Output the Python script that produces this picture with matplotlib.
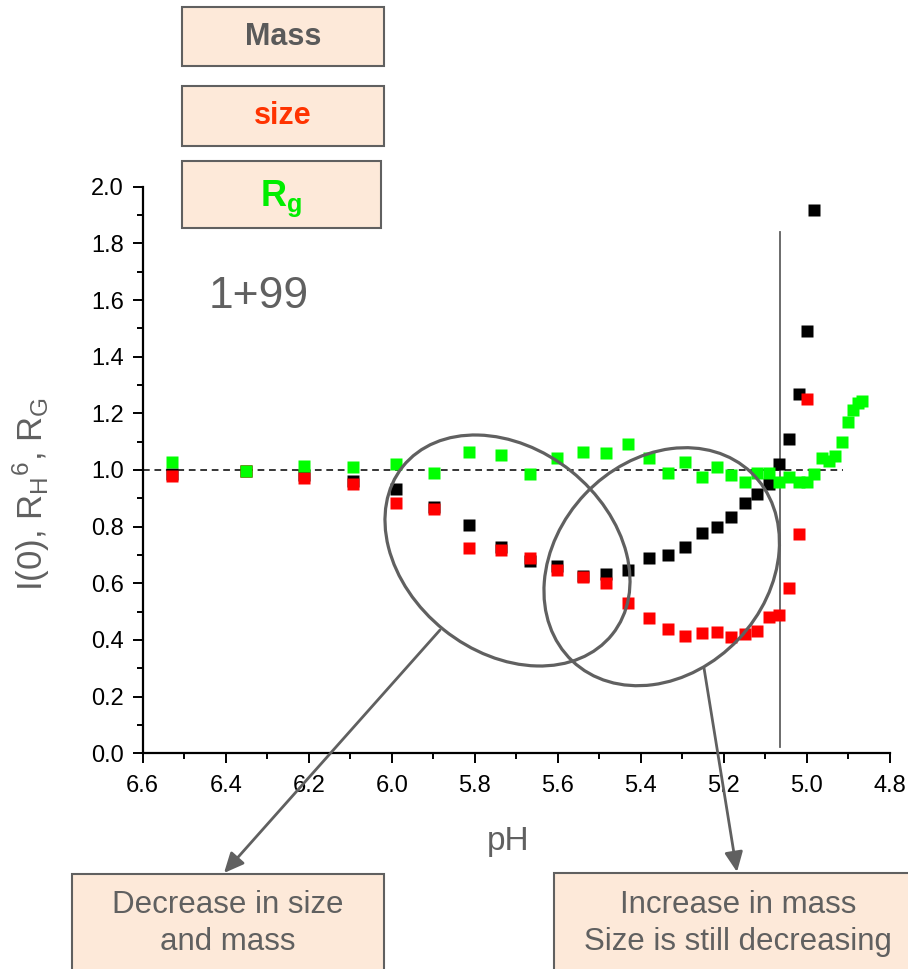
import numpy as np
import matplotlib
matplotlib.use("Agg")
import matplotlib.pyplot as plt
from matplotlib.patches import Rectangle, Ellipse, FancyArrowPatch
from matplotlib.ticker import MultipleLocator

plt.rcParams['font.family'] = ['Liberation Sans', 'DejaVu Sans']
plt.rcParams['mathtext.fontset'] = 'custom'
plt.rcParams['mathtext.rm'] = 'Liberation Sans'
plt.rcParams['mathtext.it'] = 'Liberation Sans'
plt.rcParams['mathtext.bf'] = 'Liberation Sans:bold'

nan = np.nan

# pH titration series, normalised values
ph = [6.529, 6.351, 6.211, 6.093, 5.990, 5.898, 5.814, 5.737, 5.667, 5.601,
      5.540, 5.483, 5.430, 5.381, 5.335, 5.293, 5.253, 5.217, 5.182, 5.150,
      5.120, 5.092, 5.068, 5.043, 5.020, 5.000, 4.982, 4.964, 4.946, 4.932,
      4.916, 4.902, 4.889, 4.877, 4.867]
mass_i0 = [0.987, 0.995, 0.982, 0.960, 0.933, 0.870, 0.807, 0.728, 0.680, 0.660,
           0.625, 0.633, 0.648, 0.689, 0.701, 0.729, 0.778, 0.800, 0.834, 0.885,
           0.917, 0.952, 1.021, 1.111, 1.268, 1.489, 1.917, nan, nan, nan,
           nan, nan, nan, nan, nan]
size_rh6 = [0.980, 0.995, 0.970, 0.952, 0.883, 0.862, 0.723, 0.718, 0.689, 0.648,
            0.623, 0.601, 0.530, 0.478, 0.439, 0.415, 0.425, 0.428, 0.410, 0.420,
            0.430, 0.480, 0.489, 0.583, 0.774, 1.252, nan, nan, nan, nan,
            nan, nan, nan, nan, nan]
rg = [1.027, 0.995, 1.015, 1.011, 1.021, 0.991, 1.064, 1.052, 0.985, 1.041,
      1.064, 1.060, 1.091, 1.042, 0.988, 1.027, 0.976, 1.011, 0.983, 0.958,
      0.991, 0.991, 0.958, 0.976, 0.956, 0.956, 0.986, 1.044, 1.032, 1.048,
      1.099, 1.170, 1.211, 1.238, 1.244]

xticks = [6.6, 6.4, 6.2, 6.0, 5.8, 5.6, 5.4, 5.2, 5.0, 4.8]
yticks = [0.0, 0.2, 0.4, 0.6, 0.8, 1.0, 1.2, 1.4, 1.6, 1.8, 2.0]
ref_level = 1.0
ref_end_ph = 4.913
transition_ph = 5.064

W, H = 908, 969
GRAY = '#606060'
PEACH = '#FDE9D9'

AX_L, AX_R, AX_T, AX_B = 142.7, 890.0, 186.7, 753.3
fig = plt.figure(figsize=(W / 100, H / 100), dpi=100)
ax = fig.add_axes([AX_L / W, 1 - AX_B / H, (AX_R - AX_L) / W, (AX_B - AX_T) / H])

ax.set_xlim(6.6, 4.8)
ax.set_ylim(0.0, 2.0)

ax.plot([6.6, ref_end_ph], [ref_level, ref_level], color='black',
        lw=1.1, dashes=(4.4, 3.1), zorder=1, clip_on=False)
ax.plot([transition_ph, transition_ph], [0.021, 1.84], color=GRAY, lw=1.3, zorder=1)

ms = 8
ax.plot(ph, mass_i0, 's', color='black', ms=ms, mec='none', zorder=3)
ax.plot(ph, size_rh6, 's', color='#FF0000', ms=ms, mec='none', zorder=4)
ax.plot(ph, rg, 's', color='#00FF00', ms=ms, mec='none', zorder=5)

for s in ['top', 'right']:
    ax.spines[s].set_visible(False)
for s in ['left', 'bottom']:
    ax.spines[s].set_linewidth(1.6)

ax.set_xticks(xticks)
ax.set_xticklabels([f'{v:.1f}' for v in xticks])
ax.set_yticks(yticks)
ax.set_yticklabels([f'{v:.1f}' for v in yticks])
ax.xaxis.set_minor_locator(MultipleLocator(0.1))
ax.yaxis.set_minor_locator(MultipleLocator(0.1))
ax.tick_params(which='major', length=7.5, width=1.4, labelsize=17, direction='out')
ax.tick_params(which='minor', length=4, width=1.4, direction='out')
ax.tick_params(axis='x', pad=8)
ax.tick_params(axis='y', pad=6)

ax.set_xlabel('pH', fontsize=24, color=GRAY)
ax.xaxis.set_label_coords((508 - AX_L) / (AX_R - AX_L), (AX_B - 826) / (AX_B - AX_T))
ax.set_ylabel(r'I(0), R$_\mathregular{H}{}^\mathregular{6}$, R$_\mathregular{G}$',
              fontsize=25, color=GRAY)
ax.yaxis.set_label_coords((52 - AX_L) / (AX_R - AX_L), (AX_B - 494) / (AX_B - AX_T))

ax.text(259 / W, 1 - 296 / H, '1+99', transform=fig.transFigure, fontsize=32,
        color=GRAY, ha='center', va='center')


def box(x0, y0, x1, y1):
    fig.patches.append(Rectangle((x0 / W, 1 - y1 / H), (x1 - x0) / W, (y1 - y0) / H,
                                 transform=fig.transFigure, facecolor=PEACH,
                                 edgecolor=GRAY, lw=1.5, zorder=10))


def ftext(x, y, s, **kw):
    fig.text(x / W, 1 - y / H, s, ha='center', va='center', zorder=11, **kw)


# legend-like labels above the plot
box(182, 7, 384, 66)
ftext(283, 37, 'Mass', fontsize=22, fontweight='bold', color='#5A5A5A')
box(182, 86, 384, 146)
ftext(283, 116, 'size', fontsize=22, fontweight='bold', color='#FF3300')
box(182, 161, 381, 228)
ftext(281, 199, r'$\mathbf{R_g}$', fontsize=26, color='#00EE00')

# comment boxes below the plot
box(72, 874, 384, 990)
ftext(228, 905, 'Decrease in size', fontsize=22.5, color=GRAY)
ftext(228, 942, 'and mass', fontsize=22.5, color=GRAY)
box(554, 873, 930, 990)
ftext(738, 905, 'Increase in mass', fontsize=22.5, color=GRAY)
ftext(738, 942, 'Size is still decreasing', fontsize=22.5, color=GRAY)

# ellipses marking the two regimes (pixel geometry, y measured from top)
for cx, cy, a, b, ang in [(507.5, 550.5, 134.2, 101.7, -38.7),
                          (661.7, 566.7, 129.9, 105.6, 46.5)]:
    fig.patches.append(Ellipse((cx / 100, (H - cy) / 100), 2 * a / 100, 2 * b / 100,
                               angle=ang, transform=fig.dpi_scale_trans,
                               fill=False, edgecolor=GRAY, lw=2.3, zorder=8))

for (xa, ya), (xb, yb) in [((440, 630), (224, 873)), ((704, 668), (737, 872))]:
    fig.patches.append(FancyArrowPatch((xa / 100, (H - ya) / 100), (xb / 100, (H - yb) / 100),
                                       transform=fig.dpi_scale_trans,
                                       arrowstyle='-|>,head_length=1.2,head_width=0.55',
                                       mutation_scale=10, color=GRAY, lw=2.0,
                                       shrinkA=0, shrinkB=0, zorder=9))

fig.savefig('out.png', dpi=100)
